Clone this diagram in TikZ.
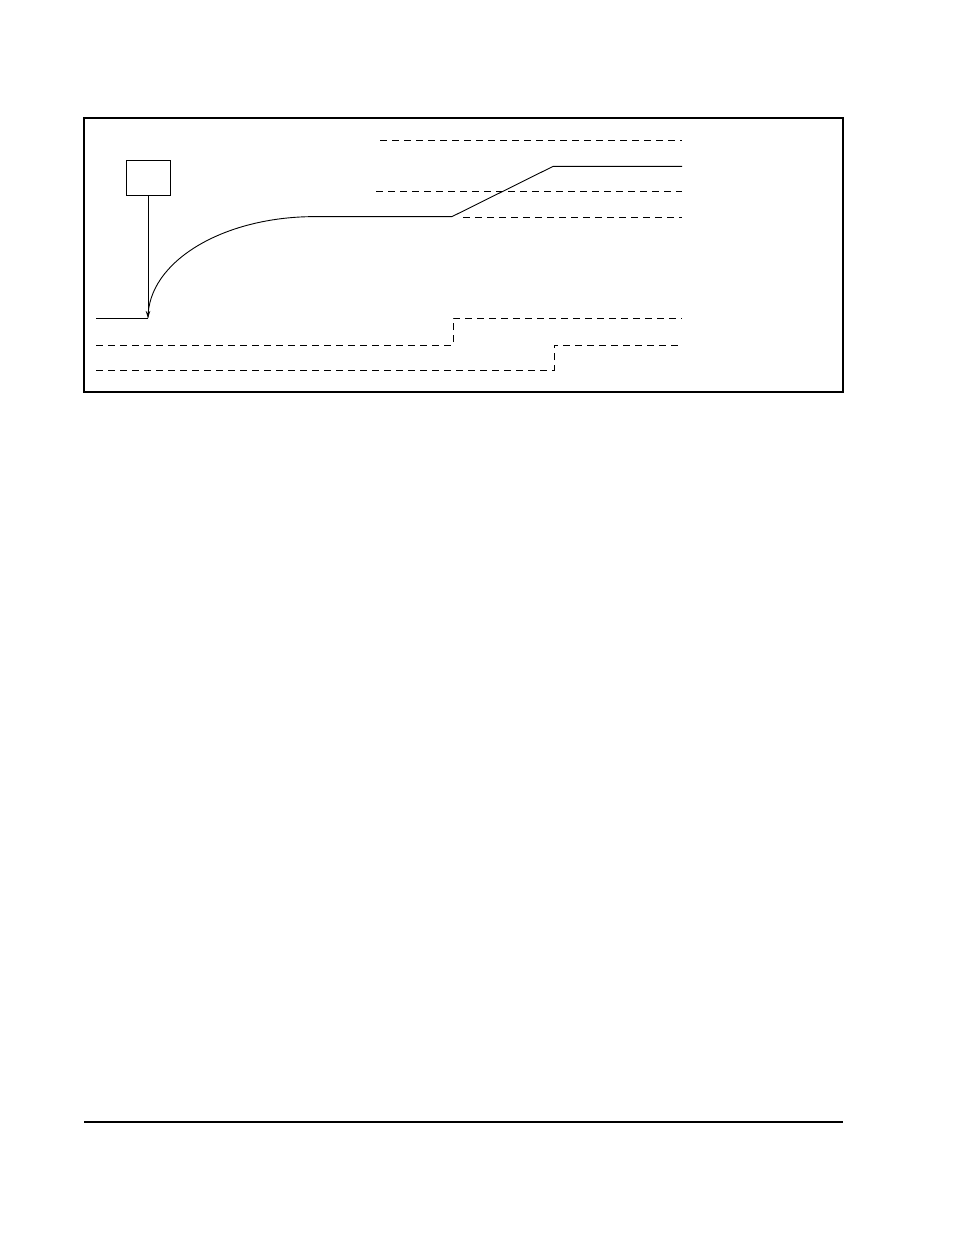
\documentclass[tikz,border=0pt]{standalone}
\usetikzlibrary{arrows.meta}
\begin{document}
\begin{tikzpicture}[x=1pt,y=-1pt,
  solidline/.style={line width=0.9pt},
  dashline/.style={line width=0.9pt,dash pattern=on 7pt off 5pt},
  framebox/.style={line width=1.3pt},
  boxnode/.style={draw,line width=0.9pt,minimum width=44pt,minimum height=35pt,inner sep=0pt}]
\useasboundingbox (0,0) rectangle (954,1235);
% frame
\node[framebox,draw,minimum width=759pt,minimum height=274pt,inner sep=0pt] (frame) at (463.5,255) {};
% box with arrow
\node[boxnode] (box) at (148,177.5) {};
\coordinate (tip) at (148,318);
\coordinate (lstart) at (96,318);
\draw[solidline,-{Stealth[length=7pt,width=4.5pt]}] (box.south) -- (tip);
\draw[solidline] (lstart) -- (tip);
% curve and solid trace
\coordinate (cEnd) at (315,216.6);
\coordinate (rampA) at (452,216.6);
\coordinate (rampB) at (553,166.4);
\coordinate (solEnd) at (682,166.4);
\draw[solidline] (tip) .. controls (148,261.7) and (222.8,216.6) .. (cEnd) -- (rampA) -- (rampB) -- (solEnd);
% dashed levels
\coordinate (d1a) at (380,140.4); \coordinate (d1b) at (682,140.4);
\coordinate (d2a) at (376,191); \coordinate (d2b) at (682,191);
\coordinate (d3a) at (463,217); \coordinate (d3b) at (682,217);
\draw[dashline] (d1a) -- (d1b);
\draw[dashline] (d2a) -- (d2b);
\draw[dashline] (d3a) -- (d3b);
% step signals
\coordinate (s1a) at (96,345); \coordinate (s1b) at (453,345);
\coordinate (s1c) at (453,318); \coordinate (s1d) at (682,318);
\draw[dashline] (s1a) -- (s1b) -- (s1c) -- (s1d);
\coordinate (s2a) at (96,370); \coordinate (s2b) at (554,370);
\coordinate (s2c) at (554,345); \coordinate (s2d) at (682,345);
\draw[dashline] (s2a) -- (s2b) -- (s2c) -- (s2d);
% bottom rule
\coordinate (r1) at (84,1122); \coordinate (r2) at (843,1122);
\draw[line width=1.2pt] (r1) -- (r2);
\end{tikzpicture}
\end{document}
